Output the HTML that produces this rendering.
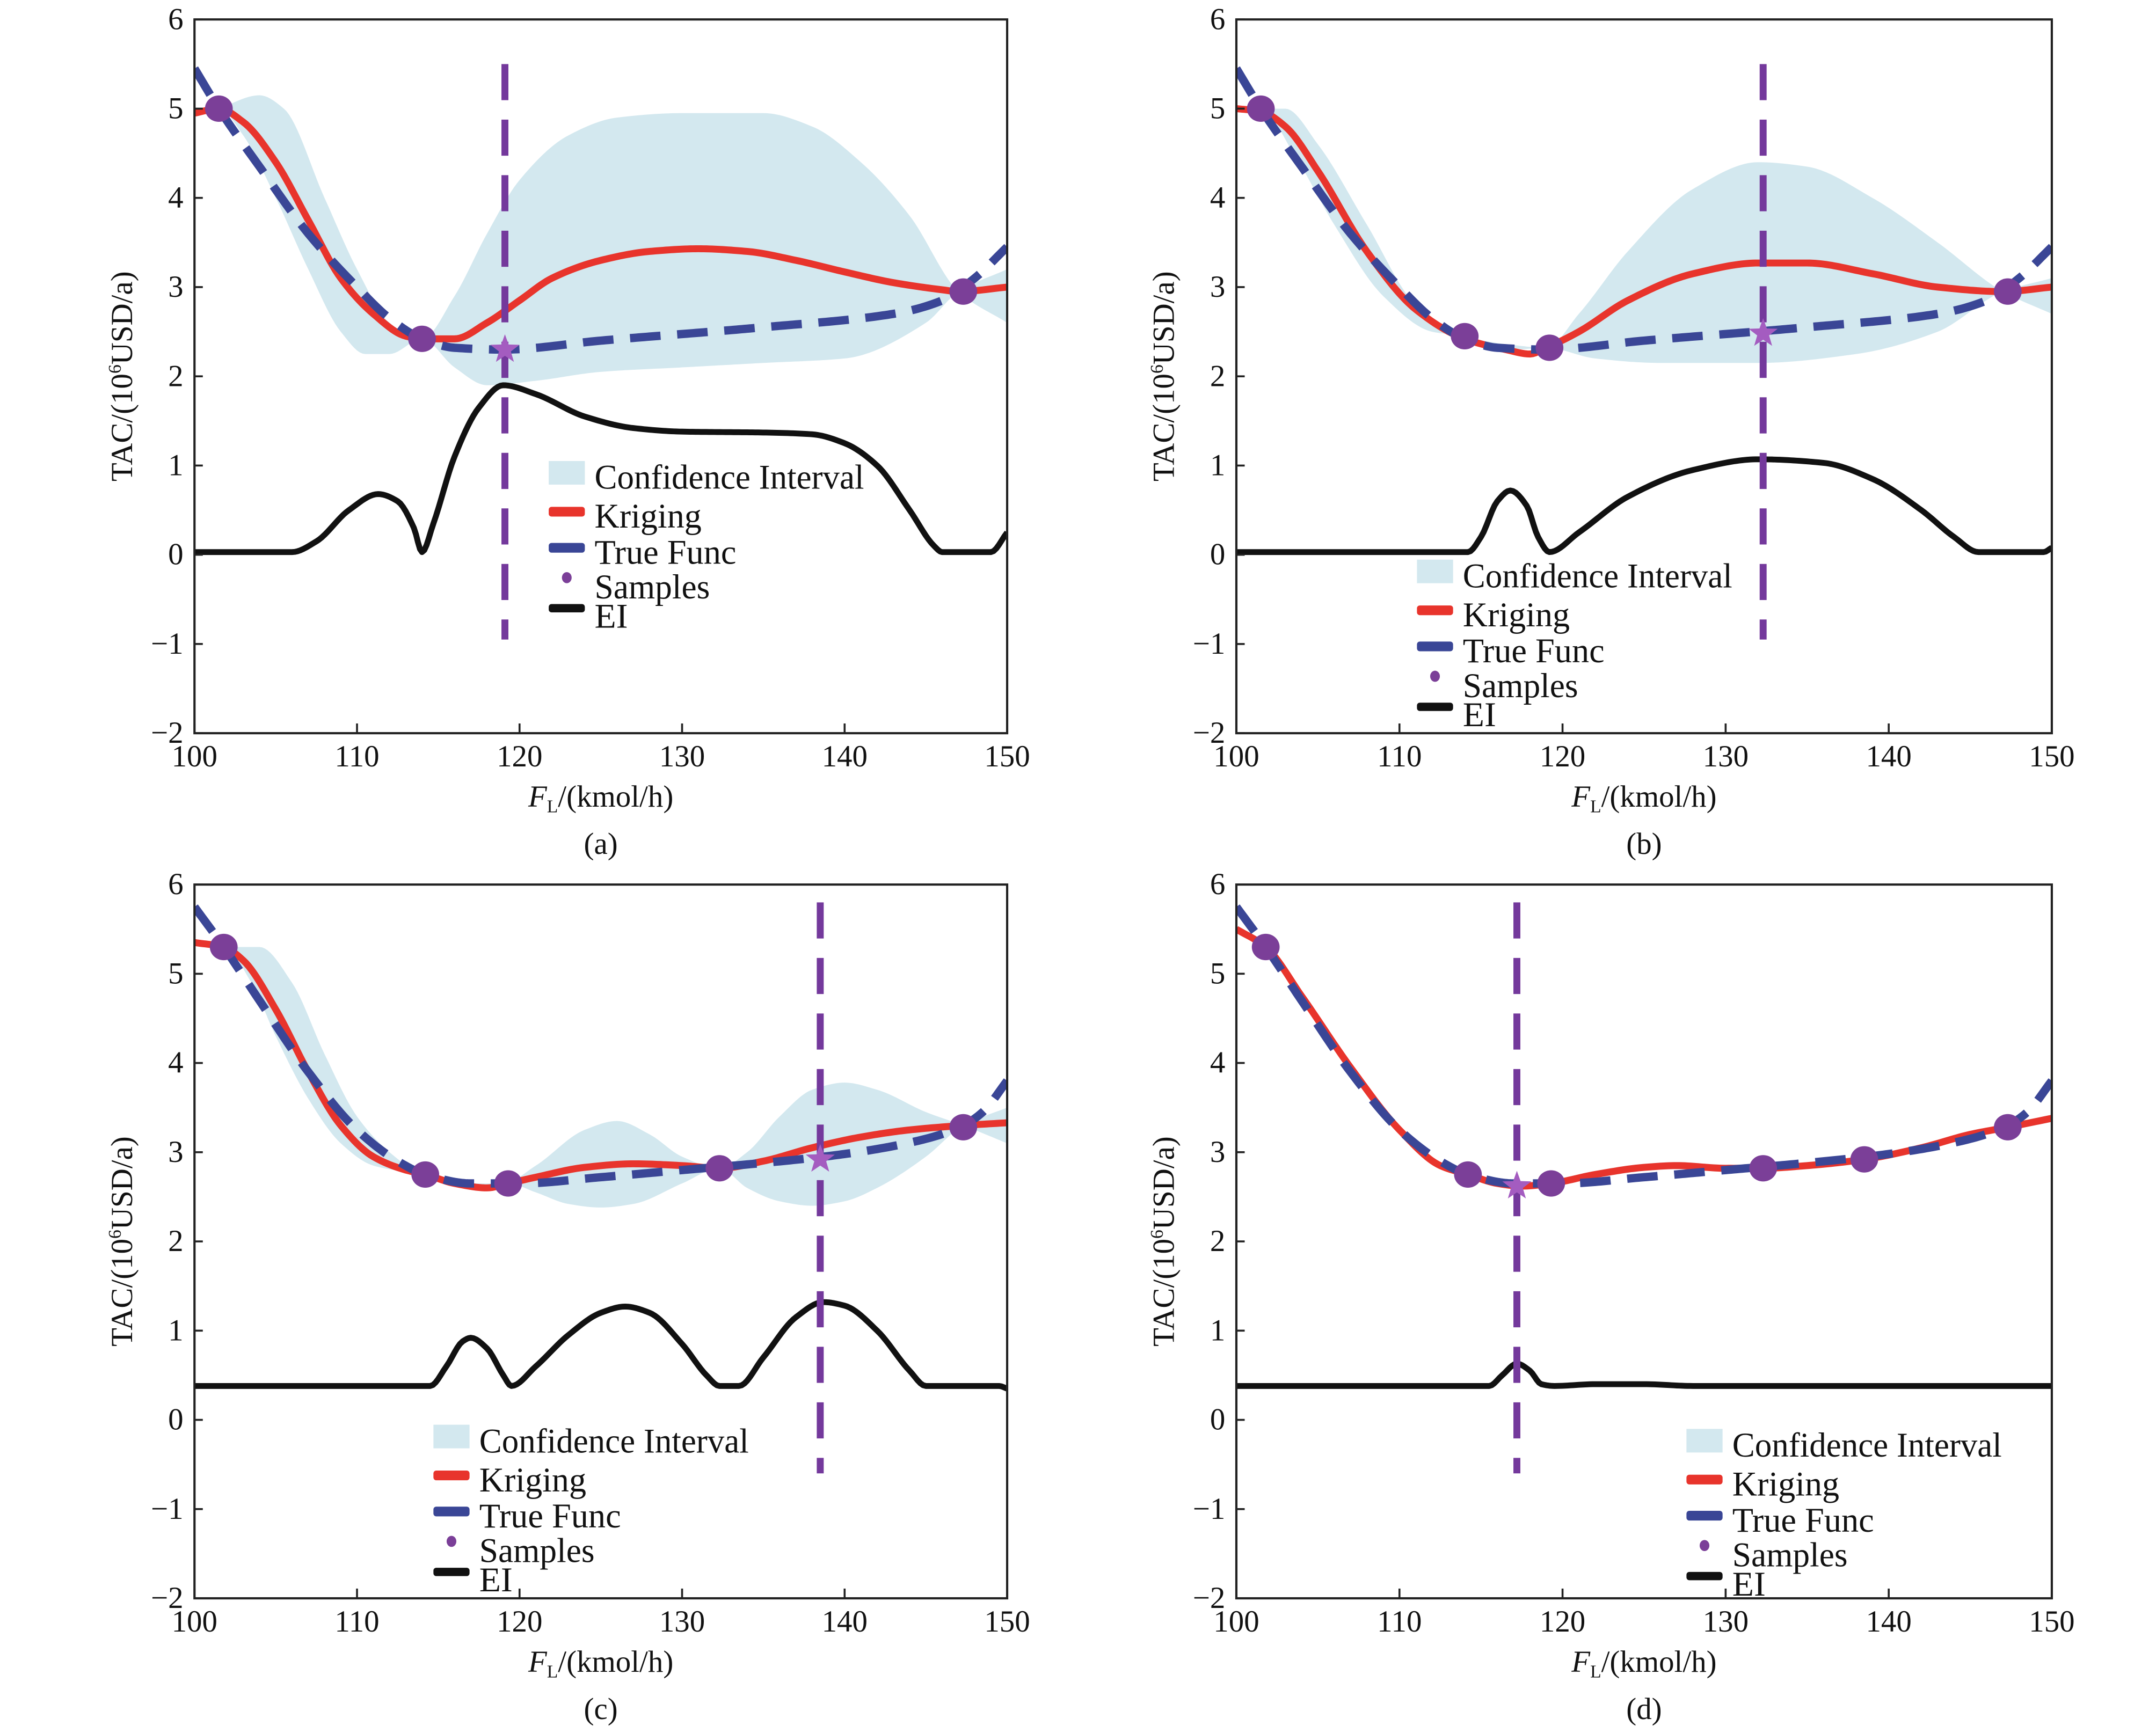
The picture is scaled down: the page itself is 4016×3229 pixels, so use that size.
<!DOCTYPE html>
<html><head><meta charset="utf-8">
<style>
html,body{margin:0;padding:0;background:#fff;}
svg{display:block;}
text{font-family:"Liberation Serif","Times New Roman",serif;fill:#111;}
</style></head>
<body>
<svg id="s" width="4016" height="3229" viewBox="0 0 1552 1248" preserveAspectRatio="none" xmlns="http://www.w3.org/2000/svg">
<rect width="1552" height="1248" fill="#fff"/>
</svg>
<script>
const NS="http://www.w3.org/2000/svg";
const svg=document.getElementById('s');
function el(tag,attrs,parent,txt){const e=document.createElementNS(NS,tag);for(const k in attrs)e.setAttribute(k,attrs[k]);if(txt!==undefined)e.textContent=txt;(parent||svg).appendChild(e);return e;}
function mono(pts){ // monotone cubic (Fritsch-Carlson) in x
  const n=pts.length,x=pts.map(p=>p[0]),y=pts.map(p=>p[1]);
  const h=[],dl=[];for(let i=0;i<n-1;i++){h.push(x[i+1]-x[i]);dl.push((y[i+1]-y[i])/h[i]);}
  const m=new Array(n);m[0]=dl[0];m[n-1]=dl[n-2];
  for(let i=1;i<n-1;i++){
    if(dl[i-1]*dl[i]<=0)m[i]=0;
    else{const w1=2*h[i]+h[i-1],w2=h[i]+2*h[i-1];m[i]=(w1+w2)/(w1/dl[i-1]+w2/dl[i]);}
  }
  const out=[];
  for(let i=0;i<n-1;i++){
    const N=Math.max(4,Math.ceil(h[i]*6));
    for(let k=0;k<N;k++){const t=k/N,t2=t*t,t3=t2*t;
      const v=(2*t3-3*t2+1)*y[i]+(t3-2*t2+t)*h[i]*m[i]+(-2*t3+3*t2)*y[i+1]+(t3-t2)*h[i]*m[i+1];
      out.push([x[i]+t*h[i],v]);}
  }
  out.push(pts[n-1]);return out;
}
function panel(P){
  const L=P.L,R=P.R,T=P.T,B=T+514;
  const X=v=>L+(v-100)*(R-L)/50, Y=v=>T+(6-v)*64.25;
  const path=pts=>mono(pts).map((p,i)=>(i?'L':'M')+X(p[0]).toFixed(2)+' '+Y(p[1]).toFixed(2)).join(' ');
  const g=el('g',{});
  const clip='c'+P.id; const cp=el('clipPath',{id:clip},g); el('rect',{x:L,y:T,width:R-L,height:B-T},cp);
  const pg=el('g',{'clip-path':'url(#'+clip+')'},g);
  const up=mono(P.up),lo=mono(P.lo).reverse();
  const d=up.concat(lo).map((p,i)=>(i?'L':'M')+X(p[0]).toFixed(2)+' '+Y(p[1]).toFixed(2)).join(' ')+'Z';
  el('path',{d:d,fill:'#d3e8ef'},pg);
  el('path',{d:path(P.ei),fill:'none',stroke:'#111',"stroke-width":4.2,"stroke-linejoin":"round"},pg);
  el('path',{d:path(P.kr),fill:'none',stroke:'#e8342c',"stroke-width":5},pg);
  el('path',{d:path(P.tr),fill:'none',stroke:'#3a4696',"stroke-width":6,"stroke-dasharray":"22 12"},pg);
  el('line',{x1:X(P.v),x2:X(P.v),y1:Y(P.vt),y2:Y(P.vb),stroke:'#74399c',"stroke-width":5,"stroke-dasharray":"26 14"},pg);
  P.s.forEach(p=>el('ellipse',{cx:X(p[0]),cy:Y(p[1]),rx:10,ry:9.5,fill:'#7b3f98'},pg));
  const sx=X(P.st[0]),sy=Y(P.st[1]);let sp='';
  for(let i=0;i<10;i++){const a=-Math.PI/2+i*Math.PI/5,r=i%2?4.5:11;sp+=(sx+r*Math.cos(a)).toFixed(2)+','+(sy+r*Math.sin(a)).toFixed(2)+' ';}
  el('polygon',{points:sp,fill:'#a45cc0'},pg);
  el('rect',{x:L,y:T,width:R-L,height:B-T,fill:'none',stroke:'#222',"stroke-width":1.6},g);
  for(let v=-2;v<=6;v++){
    el('line',{x1:L,x2:L+6,y1:Y(v),y2:Y(v),stroke:'#222',"stroke-width":1.4},g);
    el('text',{x:L-8,y:Y(v)+7,"font-size":22,"text-anchor":"end"},g,v<0?'\u2212'+(-v):String(v));
  }
  for(let v=100;v<=150;v+=10){
    el('line',{x1:X(v),x2:X(v),y1:B,y2:B-7,stroke:'#222',"stroke-width":1.4},g);
    el('text',{x:X(v),y:B+24,"font-size":22,"text-anchor":"middle"},g,String(v));
  }
  const xl=el('text',{x:(L+R)/2,y:B+53,"font-size":22,"text-anchor":"middle"},g);
  el('tspan',{"font-style":"italic"},xl,'F');el('tspan',{"font-size":13,dy:4},xl,'L');el('tspan',{dy:-4},xl,'/(kmol/h)');
  const yl=el('text',{x:0,y:0,"font-size":22,"text-anchor":"middle",transform:'translate('+(L-45)+','+(T+257)+') rotate(-90)'},g);
  el('tspan',{},yl,'TAC/(10');el('tspan',{"font-size":13,dy:-8},yl,'6');el('tspan',{dy:8},yl,'USD/a)');
  el('text',{x:(L+R)/2,y:B+87,"font-size":22,"text-anchor":"middle"},g,P.cap);
  const lx=P.lx,ly=P.ly,dy=[0,28,54,79,100];
  el('rect',{x:lx,y:ly-12,width:26,height:17,fill:'#d3e8ef'},g);
  el('rect',{x:lx,y:ly+28-7,width:26,height:7,rx:2,fill:'#e8342c'},g);
  el('rect',{x:lx,y:ly+54-7,width:26,height:7,rx:2,fill:'#3a4696'},g);
  el('ellipse',{cx:lx+13,cy:ly+79-7,rx:3.5,ry:4,fill:'#7b3f98'},g);
  el('rect',{x:lx,y:ly+100-9,width:26,height:6,rx:2,fill:'#111'},g);
  const tl=[194,77,102,83,24];
  ['Confidence Interval','Kriging','True Func','Samples','EI'].forEach((t,i)=>el('text',{x:lx+33,y:ly+dy[i]+8,"font-size":25,textLength:tl[i],lengthAdjust:'spacingAndGlyphs'},g,t));
}
const trueAB=[[100,5.45],[101.5,5.0],[104,4.35],[107,3.6],[110,3.0],[112,2.65],[114,2.42],[116,2.32],[119,2.3],[125,2.4],[135,2.55],[143,2.7],[146,2.85],[148,3.1],[150,3.45]];
const trueCD=[[100,5.75],[101.8,5.3],[104,4.7],[107,3.9],[110,3.25],[112.5,2.9],[114.2,2.75],[117,2.65],[120,2.65],[125,2.72],[130,2.8],[135,2.88],[140,2.98],[145,3.15],[147.3,3.3],[148.5,3.45],[150,3.8]];
panel({id:'a',L:140,R:725,T:14,cap:'(a)',lx:395,ly:344,v:119.1,vt:5.5,vb:-0.95,st:[119.1,2.3],
 s:[[101.5,5.0],[114,2.42],[147.3,2.95]],
 up:[[100,4.9],[101.5,5.0],[104,5.15],[105.5,5.0],[108,4.0],[110,3.2],[112,2.6],[114,2.42],[116,2.9],[118,3.6],[120,4.2],[123,4.7],[126,4.9],[130,4.95],[135,4.95],[138,4.8],[141,4.4],[144,3.8],[147,2.95],[150,2.6]],
 lo:[[100,4.9],[101.5,5.0],[103,4.7],[105,4.0],[107,3.2],[109,2.5],[110.5,2.25],[112,2.25],[114,2.42],[116,2.1],[118,1.9],[121,1.95],[125,2.05],[130,2.1],[135,2.15],[140,2.2],[145,2.6],[147,2.95],[150,3.2]],
 kr:[[100,4.95],[101.5,5.0],[103,4.85],[105,4.4],[107,3.75],[109,3.1],[111,2.7],[113,2.45],[114,2.42],[116,2.42],[118,2.6],[120,2.85],[122,3.1],[125,3.3],[128,3.4],[131,3.43],[134,3.4],[137,3.3],[140,3.17],[143,3.05],[146,2.97],[147,2.95],[150,3.0]],
 tr:trueAB,
 ei:[[100,0.03],[106,0.03],[107.5,0.15],[109.5,0.5],[111.3,0.68],[112.5,0.6],[113.5,0.3],[114,0.03],[114.7,0.35],[116,1.1],[117.5,1.65],[119,1.9],[121,1.8],[124,1.55],[127,1.42],[130,1.38],[135,1.37],[138,1.35],[140,1.25],[142,1.0],[144,0.5],[145.5,0.1],[146,0.03],[149,0.03],[150,0.25]]});
panel({id:'b',L:890,R:1477,T:14,cap:'(b)',lx:1020,ly:415,v:132.3,vt:5.5,vb:-0.95,st:[132.3,2.48],
 s:[[101.5,5.0],[114,2.45],[119.2,2.32],[147.3,2.95]],
 up:[[100,4.95],[101.5,5.0],[103,5.0],[105,4.6],[108,3.7],[111,2.8],[114,2.45],[117,2.35],[119,2.32],[121,2.7],[124,3.4],[128,4.1],[132,4.4],[135,4.35],[139,4.0],[143,3.5],[147,2.95],[150,2.7]],
 lo:[[100,4.95],[101.5,5.0],[103.5,4.5],[106,3.7],[109,2.9],[112,2.5],[114,2.45],[117,2.3],[119,2.32],[122,2.2],[126,2.15],[132,2.15],[138,2.25],[143,2.5],[147,2.95],[150,3.1]],
 kr:[[100,5.0],[101.5,4.97],[103,4.8],[105,4.3],[108,3.4],[111,2.75],[114,2.42],[116.5,2.3],[118,2.25],[119,2.32],[121,2.5],[124,2.85],[128,3.15],[132,3.27],[135,3.27],[139,3.15],[143,3.0],[147,2.95],[150,3.0]],
 tr:trueAB,
 ei:[[100,0.03],[114.2,0.03],[115,0.2],[116,0.6],[116.8,0.72],[117.8,0.55],[118.5,0.2],[119.2,0.03],[121,0.25],[124,0.65],[128,0.95],[132,1.07],[136,1.03],[139,0.85],[142,0.5],[144,0.2],[145.5,0.03],[149.5,0.03],[150,0.08]]});
panel({id:'c',L:140,R:725,T:637,cap:'(c)',lx:312,ly:1038,v:138.5,vt:5.8,vb:-0.6,st:[138.5,2.92],
 s:[[101.8,5.3],[114.2,2.75],[119.3,2.65],[132.3,2.82],[147.3,3.28]],
 up:[[100,5.3],[101.8,5.3],[104,5.3],[106,4.9],[108,4.1],[110,3.4],[112,3.0],[114,2.75],[116,2.65],[119,2.65],[121,2.85],[124,3.25],[126,3.35],[128,3.2],[130,2.95],[132.3,2.82],[134,3.0],[136,3.4],[138,3.7],[140,3.78],[142,3.7],[145,3.45],[147.3,3.3],[150,3.1]],
 lo:[[100,5.3],[101.8,5.3],[103.5,4.9],[105,4.3],[107,3.6],[109,3.1],[111,2.85],[114,2.75],[117,2.6],[119.3,2.65],[121,2.55],[123,2.42],[125,2.38],[127,2.42],[130,2.65],[132.3,2.82],[134,2.6],[136,2.45],[138,2.4],[140,2.45],[142,2.6],[145,2.95],[147.3,3.3],[150,3.5]],
 kr:[[100,5.35],[101.8,5.3],[103,5.15],[105,4.6],[107,3.9],[109,3.3],[111,2.95],[113,2.8],[114.2,2.75],[116,2.65],[118,2.6],[119.3,2.65],[121,2.72],[124,2.83],[127,2.87],[130,2.85],[132.3,2.82],[135,2.9],[138,3.05],[141,3.17],[144,3.25],[147.3,3.3],[150,3.33]],
 tr:trueCD,
 ei:[[100,0.38],[114.5,0.38],[115.5,0.6],[116.5,0.88],[117,0.92],[118,0.8],[119,0.5],[119.5,0.38],[121,0.6],[123,0.95],[125,1.2],[126.5,1.27],[128,1.2],[130,0.85],[131.5,0.5],[132.3,0.38],[133.5,0.38],[135,0.7],[137,1.15],[138.7,1.32],[140,1.28],[142,1.0],[144,0.55],[145,0.38],[149.5,0.38],[150,0.35]]});
const krd=[[100,5.5],[101.8,5.3],[104,4.75],[107,3.95],[110,3.25],[112.5,2.85],[114.2,2.75],[116,2.65],[117.5,2.62],[119.3,2.65],[122,2.75],[125,2.83],[127,2.85],[130,2.82],[132.3,2.82],[135,2.85],[138.5,2.92],[142,3.05],[145,3.2],[147.3,3.28],[150,3.38]];
panel({id:'d',L:890,R:1477,T:637,cap:'(d)',lx:1214,ly:1041,v:117.2,vt:5.8,vb:-0.6,st:[117.2,2.62],
 s:[[101.8,5.3],[114.2,2.75],[119.3,2.65],[132.3,2.82],[138.5,2.92],[147.3,3.28]],
 up:krd.map(p=>[p[0],p[1]+0.04]),lo:krd.map(p=>[p[0],p[1]-0.04]),
 kr:krd,tr:trueCD,
 ei:[[100,0.38],[115.5,0.38],[116.3,0.5],[117.2,0.63],[118,0.55],[118.7,0.4],[119.5,0.38],[122,0.4],[125,0.4],[128,0.38],[150,0.38]]});
</script>
</body></html>
